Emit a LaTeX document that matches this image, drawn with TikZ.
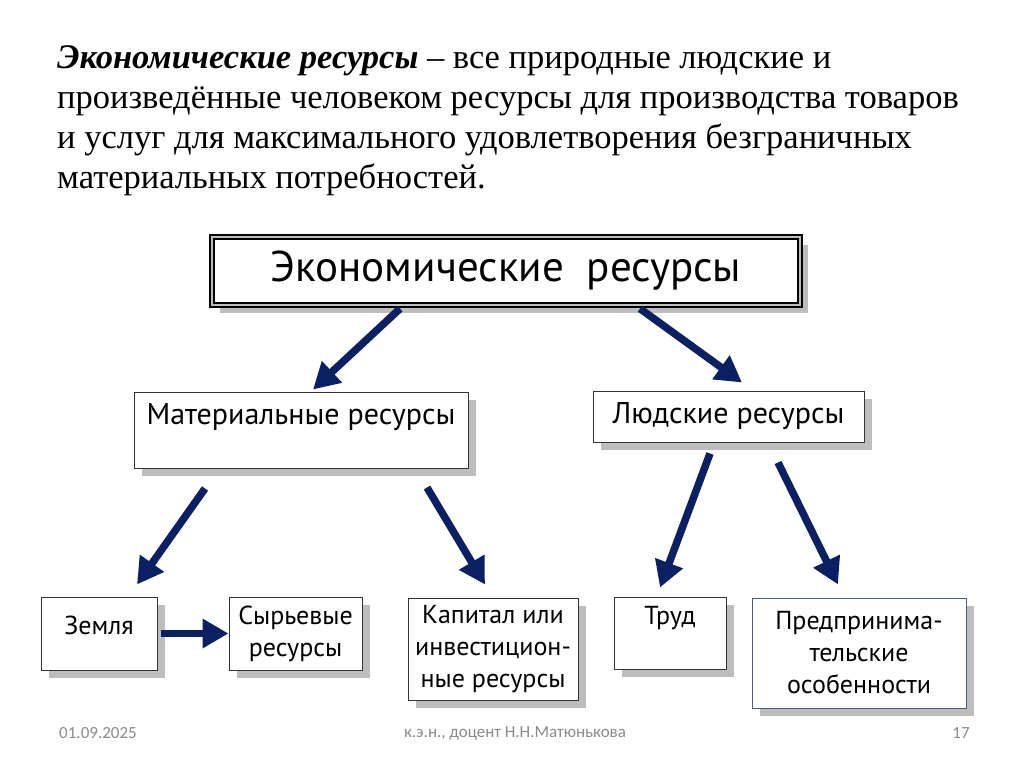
\documentclass[tikz,border=0pt]{standalone}
\usepackage{fontspec}
\setmainfont{Liberation Serif}
\newfontfamily\boxfont{PT Sans}
\newfontfamily\footfont{Carlito}
\usetikzlibrary{
  arrows.meta,
  shadows,
  calc,
  positioning
}
\definecolor{arrowblue}{HTML}{0B2063}
\definecolor{shadowgray}{HTML}{BDBDBD}
\definecolor{footgray}{HTML}{8A8A8A}
\definecolor{framegray}{HTML}{4A5A80}

\begin{document}
\begin{tikzpicture}[
      x=1pt,y=-1pt,
      resbox/.style={
         rectangle,
         draw=black!80,
         line width=1pt,
         fill=white,
         align=center,
         inner sep=0pt,
         font=\boxfont\fontsize{26}{32}\selectfont,
         drop shadow={shadow xshift=8pt,shadow yshift=-8pt,
                      fill=shadowgray,opacity=1}
      },
      midbox/.style={
         resbox,
         font=\boxfont\fontsize{30}{32}\selectfont
      },
      headbox/.style={
         resbox,
         draw=black,
         line width=1.3pt,
         double=shadowgray,
         double distance=2.5pt,
         font=\boxfont\fontsize{43}{44}\selectfont
      },
      tip/.style={
         -{Triangle[length=26pt,width=28pt]},
         line width=7.5pt,
         draw=arrowblue
      },
      foot/.style={font=\footfont\fontsize{17}{19}\selectfont,text=footgray}
    ]
    \useasboundingbox (0,0) rectangle (1024,767);
    % definition text
    \node (def) [anchor=north west,align=left,inner sep=0pt,
         font=\fontsize{34.5}{40}\selectfont] at (57,45)
         {\textbf{\textit{Экономические ресурсы}} -- все природные людские и\\
          произведённые человеком ресурсы для производства товаров\\
          и услуг для максимального удовлетворения безграничных\\
          материальных потребностей.};
    % boxes
    \node (top)  [headbox,minimum width=588pt,minimum height=68pt] at (506,271)
         {Экономические\ \ ресурсы};
    \node (mat)  [midbox,minimum width=334pt,minimum height=76pt] at (301,430)
         {Материальные ресурсы\\\mbox{}};
    \node (lyud) [midbox,minimum width=271pt,minimum height=51pt] at (728.5,416.5)
         {Людские ресурсы};
    \node (zem)  [resbox,minimum width=116pt,minimum height=73pt] at (99,633.5)
         {Земля\\[-15pt]\mbox{}};
    \node (syr)  [resbox,minimum width=133pt,minimum height=73pt] at (295.5,633.5)
         {Сырьевые\\ресурсы};
    \node (kap)  [resbox,minimum width=170pt,minimum height=102pt] at (493,649)
         {Капитал или\\инвестицион-\\ные ресурсы};
    \node (trud) [resbox,minimum width=112pt,minimum height=72pt] at (670,633)
         {Труд\\[3pt]\mbox{}};
    \node (pred) [resbox,draw=framegray,minimum width=214pt,minimum height=110pt] at (859,653)
         {Предпринима-\\тельские\\особенности};
    % arrows
    \draw[tip] ($(top.south)+(-106,3)$) -- ($(mat.north)+(12,-2)$);
    \draw[tip] ($(top.south)+(134,3)$) -- ($(lyud.north)+(13.5,-8)$);
    \draw[tip] ($(mat.south)+(-96,20)$) -- ($(zem.north)+(38,-12)$);
    \draw[tip] ($(mat.south)+(126,19)$) -- ($(kap.north)+(-8,-13)$);
    \draw[tip] ($(lyud.south)+(-18.5,11)$) -- ($(trud.north)+(-10,-9)$);
    \draw[tip] ($(lyud.south)+(49.5,20)$) -- ($(pred.north)+(-21,-13)$);
    \draw[tip,shorten <=3pt] (zem.east) -- (syr.west);
    % footer
    \node (date)   [foot] at (98,733) {01.09.2025};
    \node (author) [foot] at (515,733) {к.э.н., доцент Н.Н.Матюнькова};
    \node (page)   [foot] at (961,733) {17};
\end{tikzpicture}
\end{document}
